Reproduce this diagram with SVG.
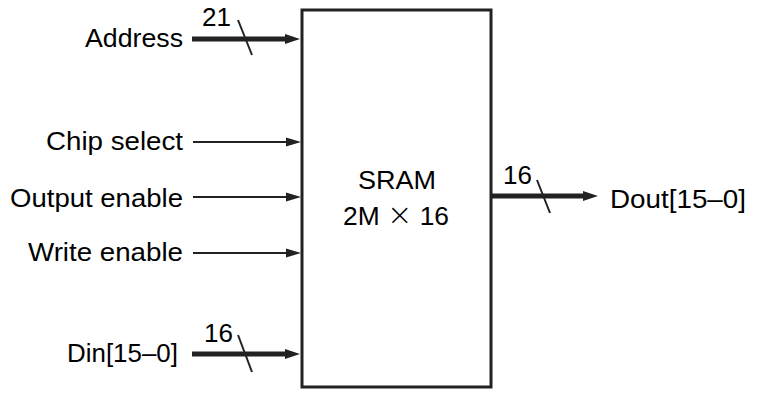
<svg xmlns="http://www.w3.org/2000/svg" width="763" height="402" viewBox="0 0 763 402">
<defs>
<style>
text{font-family:"Liberation Sans",Arial,sans-serif;font-size:26px;fill:#000}
.thin{stroke:#222;stroke-width:1.8;fill:none}
.bus{stroke:#222;stroke-width:5;fill:none}
.tick{stroke:#222;stroke-width:2;fill:none}
.head{fill:#222}
</style>
</defs>
<rect width="763" height="402" fill="#fff"/>
<g id="sram">
<rect x="302" y="10" width="189" height="377" fill="#fff" stroke="#222" stroke-width="3"/>
<text x="397" y="189" text-anchor="middle" textLength="78" lengthAdjust="spacingAndGlyphs">SRAM</text>
<text x="396" y="225" text-anchor="middle" textLength="106" lengthAdjust="spacingAndGlyphs">2M <tspan font-size="30" font-family="DejaVu Sans, sans-serif" font-weight="200">×</tspan> 16</text>
</g>
<g id="address"><text x="183" y="47" text-anchor="end" textLength="98" lengthAdjust="spacingAndGlyphs">Address</text></g>
<g id="chipselect"><text x="183" y="150" text-anchor="end" textLength="137" lengthAdjust="spacingAndGlyphs">Chip select</text></g>
<g id="outputenable"><text x="183" y="207" text-anchor="end" textLength="173" lengthAdjust="spacingAndGlyphs">Output enable</text></g>
<g id="writeenable"><text x="183" y="261" text-anchor="end" textLength="155" lengthAdjust="spacingAndGlyphs">Write enable</text></g>
<g id="din"><text x="67" y="362" textLength="111" lengthAdjust="spacingAndGlyphs">Din[15–0]</text></g>
<g id="dout"><text x="610" y="208" textLength="136" lengthAdjust="spacingAndGlyphs">Dout[15–0]</text></g>
<g id="connectors">
<line class="bus" x1="192" y1="39" x2="288" y2="39"/>
<polygon class="head" points="300,39 285,34 285,44"/>
<line class="tick" x1="238" y1="20" x2="252" y2="55"/>
<text x="202" y="26">21</text>
<line class="thin" x1="193" y1="142" x2="290" y2="142"/>
<polygon class="head" points="301,142 286,137.5 286,146.5"/>
<line class="thin" x1="193" y1="197" x2="290" y2="197"/>
<polygon class="head" points="301,197 286,192.5 286,201.5"/>
<line class="thin" x1="193" y1="253" x2="290" y2="253"/>
<polygon class="head" points="301,253 286,248.5 286,257.5"/>
<line class="bus" x1="192" y1="354" x2="288" y2="354"/>
<polygon class="head" points="300,354 285,349 285,359"/>
<line class="tick" x1="238" y1="335" x2="252" y2="372"/>
<text x="204" y="342">16</text>
<line class="bus" x1="491" y1="196" x2="585" y2="196"/>
<polygon class="head" points="598,196 583,191 583,201"/>
<line class="tick" x1="537" y1="180" x2="550" y2="213"/>
<text x="503" y="184">16</text>
</g>
</svg>
